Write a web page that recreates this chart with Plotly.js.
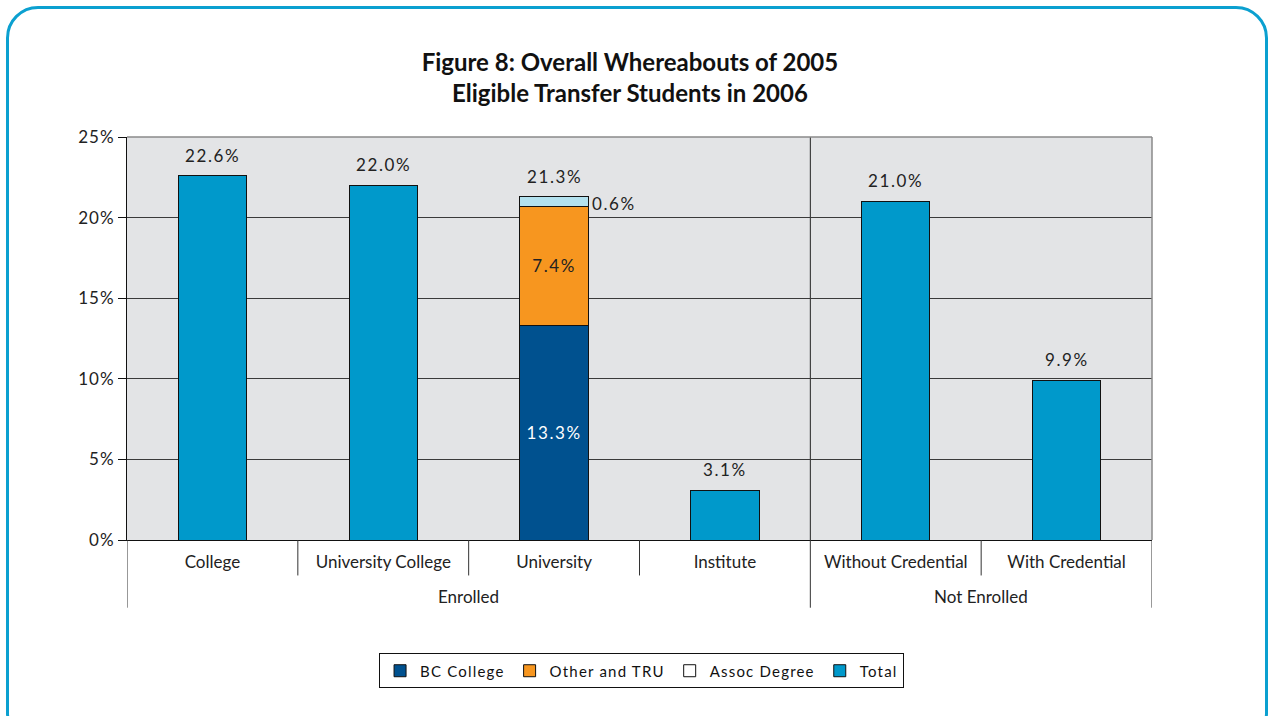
<!DOCTYPE html>
<html>
<head>
<meta charset="utf-8">
<script src="https://cdn.plot.ly/plotly-3.0.1.min.js"></script>
<style>
  html, body { margin:0; padding:0; background:#ffffff; }
  #frame { position:absolute; left:6px; top:6px; width:1262px; height:740px;
           border:3px solid #0ba0d0; border-radius:32px; box-sizing:border-box; }
  #chart { position:absolute; left:0; top:0; width:1270px; height:716px; }
  .legendtext { letter-spacing: 1.2px; }
  .ytick text { letter-spacing: 1px; }
</style>
</head>
<body>
<div id="frame"></div>
<div id="chart"></div>
<script>
// ---- data ----
const categories = ['College', 'University College', 'University', 'Institute', 'Without Credential', 'With Credential'];
const groupNames = ['Enrolled', 'Not Enrolled'];
const groupSpans = [[0, 3], [4, 5]];           // first/last category index of each group
const totalValues = [22.6, 22.0, null, 3.1, 21.0, 9.9];
const bcCollege   = [null, null, 13.3, null, null, null];
const otherTRU    = [null, null, 7.4, null, null, null];
const assocDegree = [null, null, 0.6, null, null, null];
const barTotals   = [22.6, 22.0, 21.3, 3.1, 21.0, 9.9];
const yTicks = [0, 5, 10, 15, 20, 25];

const FONT = 'Lato, "Open Sans", sans-serif';
const BAR_W = 0.4;
const outline = {color: '#111111', width: 1};
const spaced = s => '<span style="letter-spacing:1.6px">' + s + '</span>';

const traces = [
  {type:'bar', name:'BC College', x:categories, y:bcCollege, width:BAR_W,
   marker:{color:'#00518f', line:outline},
   text: bcCollege.map(v => v == null ? '' : spaced(v.toFixed(1) + '%')),
   textposition:'inside', insidetextanchor:'middle',
   insidetextfont:{color:'#ffffff', size:17, family:FONT}, hoverinfo:'skip'},
  {type:'bar', name:'Other and TRU', x:categories, y:otherTRU, width:BAR_W,
   marker:{color:'#f7961f', line:outline},
   text: otherTRU.map(v => v == null ? '' : spaced(v.toFixed(1) + '%')),
   textposition:'inside', insidetextanchor:'middle',
   insidetextfont:{color:'#222222', size:17, family:FONT}, hoverinfo:'skip'},
  {type:'bar', name:'Assoc Degree', x:categories, y:assocDegree, width:BAR_W,
   marker:{color:'#b3e1ee', line:outline}, showlegend:false, textposition:'none', hoverinfo:'skip'},
  {type:'bar', name:'Assoc Degree', x:[categories[2]], y:[null], width:BAR_W,
   marker:{color:'#ffffff', line:outline}, hoverinfo:'skip'},
  {type:'bar', name:'Total', x:categories, y:totalValues, width:BAR_W,
   marker:{color:'#0099cb', line:outline}, textposition:'none', hoverinfo:'skip'}
];

const annotations = [];
barTotals.forEach((v, i) => {
  annotations.push({x: categories[i], y: v, xref:'x', yref:'y',
    text: spaced(v.toFixed(1) + '%'),
    showarrow:false, yanchor:'bottom', yshift:8, font:{size:17, color:'#222', family:FONT}});
});
// side label for the thin Assoc Degree segment
annotations.push({x: categories[2], y: bcCollege[2] + otherTRU[2] + assocDegree[2] / 2, xref:'x', yref:'y',
  text: spaced(assocDegree[2].toFixed(1) + '%'), showarrow:false,
  xanchor:'left', xshift:36, yshift:-2, font:{size:17, color:'#222', family:FONT}});
// group labels
groupNames.forEach((g, k) => {
  annotations.push({x: (groupSpans[k][0] + groupSpans[k][1]) / 2, y: -0.139, xref:'x', yref:'paper',
    text: g, showarrow:false, yanchor:'middle', font:{size:17, color:'#222', family:FONT}});
});

const shapes = [];
// short separators between categories inside a group
groupSpans.forEach(s => {
  for (let i = s[0]; i < s[1]; i++) {
    shapes.push({type:'line', xref:'x', yref:'paper', x0:i + 0.5, x1:i + 0.5, y0:0, y1:-0.088,
      line:{color:'#333', width:1}});
  }
});
// long separators at group boundaries
[-0.5, 3.5, 5.5].forEach(b => {
  shapes.push({type:'line', xref:'x', yref:'paper', x0:b, x1:b, y0:0, y1:-0.168,
    line:{color:'#333', width:1}});
});
// vertical divider inside the plot between groups
shapes.push({type:'line', xref:'x', yref:'paper', x0:3.5, x1:3.5, y0:0, y1:1, layer:'below',
  line:{color:'#222', width:1}});
// top and right plot border (gray)
shapes.push({type:'line', xref:'paper', yref:'paper', x0:0, x1:1, y0:1, y1:1, line:{color:'#8a8a8a', width:1.5}});
shapes.push({type:'line', xref:'paper', yref:'paper', x0:1, x1:1, y0:0, y1:1, line:{color:'#8a8a8a', width:1.5}});

const layout = {
  width:1270, height:716,
  margin:{l:127, r:118, t:137, b:176},
  paper_bgcolor:'rgba(0,0,0,0)',
  plot_bgcolor:'#e3e4e6',
  barmode:'stack',
  font:{family:FONT, color:'#222'},
  title:{text:'<b>Figure 8: Overall Whereabouts of 2005<br>Eligible Transfer Students in 2006</b>',
    x:0.496, xanchor:'center', y:1 - 71/716, yanchor:'top', yref:'container',
    font:{size:24, family:FONT, color:'#111'}},
  xaxis:{type:'category', categoryarray:categories, range:[-0.5, 5.5],
    showline:true, linecolor:'#111', linewidth:1, ticks:'', showgrid:false,
    tickfont:{size:17, family:FONT, color:'#222'}, ticklabelstandoff:7, fixedrange:true},
  yaxis:{range:[0, 25], tickvals:yTicks, ticktext:yTicks.map(v => v + '%'),
    showline:true, linecolor:'#111', linewidth:1, ticks:'outside', ticklen:8, tickcolor:'#111',
    showgrid:true, gridcolor:'#3a3a3a', gridwidth:1, zeroline:false,
    tickfont:{size:17, family:FONT, color:'#222'}, fixedrange:true},
  legend:{orientation:'h', x:0.502, xanchor:'center', y:-0.325, yanchor:'middle',
    bgcolor:'#ffffff', bordercolor:'#111', borderwidth:1, itemwidth:30,
    font:{size:15, family:FONT, color:'#111'}, traceorder:'normal', itemclick:false},
  annotations: annotations,
  shapes: shapes,
  showlegend:true
};

Plotly.newPlot('chart', traces, layout, {displayModeBar:false, staticPlot:true});
</script>
</body>
</html>
